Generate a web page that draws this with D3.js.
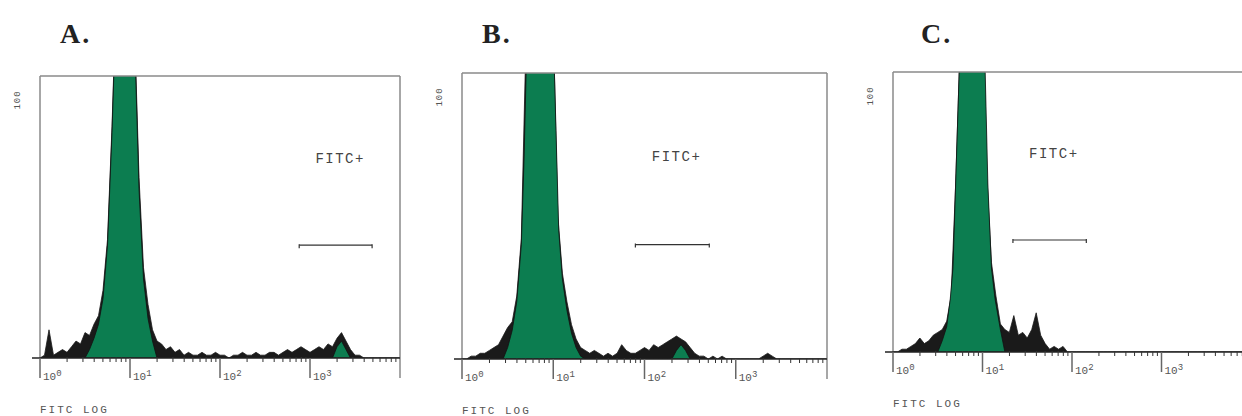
<!DOCTYPE html>
<html>
<head>
<meta charset="utf-8">
<script src="https://cdn.jsdelivr.net/npm/d3@7"></script>
<style>
  body { margin: 0; background: #fff; }
  svg { display: block; overflow: hidden; }
</style>
</head>
<body>
<svg id="chart" width="1242" height="416"></svg>
<script>
// channel width in decades (log10 units), channels start at 10^0
const step = 0.05;
const decades = [1, 10, 100, 1000];
const yMax = 100;
const gateLevel = 40;   // counts
const labelLevel = 71;  // counts

// raw histogram counts, one value per channel (0 .. 4 decades)
const rawA = [0,1,10,1,2,3,2,4,6,5,
              9,8,12,15,24,42,82,132,172,182,
              162,118,64,32,19,10,6,5,3,4,
              2,3,1,2,1,1,2,1,1,2,
              1,1,0,1,1,2,1,1,2,1,
              1,2,2,1,2,3,2,3,4,3,
              2,3,4,3,5,4,7,9,6,3,
              1,1,0,0,0,0,0,0,0,0,0];
const rawB = [0,0,1,1,2,2,3,4,5,8,
              11,13,22,42,110,152,172,180,174,152,
              117,50,30,20,12,7,4,3,2,3,
              2,1,2,1,2,5,3,2,2,3,
              4,3,5,4,5,6,7,8,7,6,
              4,2,1,1,0,1,0,1,0,0,
              0,0,0,0,0,0,1,2,1,0,
              0,0,0,0,0,0,0,0,0,0,0];
const rawC = [0,0,1,1,2,3,5,3,4,6,
              7,8,11,20,60,110,152,172,177,167,
              132,62,32,20,10,8,7,13,6,7,
              5,8,14,6,3,1,2,1,2,0,
              0,0,0,0,0,0,0,0,0,0,
              0,0,0,0,0,0,0,0,0,0,
              0,0,0,0,0,0,0,0,0,0,
              0,0,0,0,0,0,0,0,0,0,0];

// gated (green) populations: [decade, count]
const peakA = [[0.5,0],[0.55,3],[0.6,7],[0.65,12],[0.7,21],[0.75,40],[0.8,80],[0.85,130],[0.9,170],
               [0.95,180],[1.0,160],[1.05,115],[1.1,60],[1.15,28],[1.2,14],[1.25,6],[1.3,0],
               [3.25,0],[3.3,4],[3.35,6],[3.4,3],[3.45,0]];
const peakB = [[0.45,0],[0.5,4],[0.55,10],[0.6,20],[0.65,40],[0.68,70],[0.71,110],[0.75,150],[0.8,170],
               [0.85,178],[0.9,172],[0.95,150],[1.0,115],[1.03,80],[1.06,45],[1.1,28],[1.15,17],
               [1.2,9],[1.25,4],[1.3,1],[1.35,0],
               [2.3,0],[2.35,3],[2.4,5],[2.45,3],[2.5,0]];
const peakC = [[0.5,0],[0.55,4],[0.6,9],[0.64,19],[0.67,30],[0.7,60],[0.74,100],[0.8,150],[0.85,170],
               [0.9,175],[0.95,165],[1.0,130],[1.03,100],[1.06,60],[1.1,30],[1.14,19],[1.2,8],[1.25,0]];

// FITC+ marker ranges, in decades
const gateA = [2.88, 3.69];
const gateB = [1.90, 2.71];
const gateC = [1.34, 2.16];

const titles = ["A.", "B.", "C."];

const green = "#0c7d50";
const mono = "Liberation Mono, DejaVu Sans Mono, monospace";
const svg = d3.select("#chart");

const panels = [
    { title: titles[0], raw: rawA, peak: peakA, gate: gateA, x0: 40, x1: 400, top: 76, base: 358, tx: 60 },
    { title: titles[1], raw: rawB, peak: peakB, gate: gateB, x0: 462, x1: 827, top: 73, base: 359, tx: 482 },
    { title: titles[2], raw: rawC, peak: peakC, gate: gateC, x0: 893, x1: 1251, top: 72, base: 352, tx: 921 }
];

panels.forEach((p, k) => drawPanel(p, k));

function drawPanel(p, k) {
    let x = d3.scaleLog().domain([1, 1e4]).range([p.x0, p.x1]);
    let y = d3.scaleLinear().domain([0, yMax]).range([p.base, p.top]);
    let g = svg.append("g");

    // clip so the peaks get cut off at the top of the frame
    let id = "clip" + k;
    svg.append("clipPath").attr("id", id)
        .append("rect")
        .attr("x", p.x0).attr("y", p.top)
        .attr("width", p.x1 - p.x0).attr("height", p.base - p.top);

    let area = d3.area()
        .x(d => x(Math.pow(10, d[0])))
        .y0(p.base)
        .y1(d => y(d[1]));

    let rawPts = p.raw.map((v, i) => [i * step, v]);
    let plot = g.append("g").attr("clip-path", `url(#${id})`);

    // raw events (black)
    plot.append("path").datum(rawPts)
        .attr("d", area)
        .attr("fill", "#1a1a1a")
        .attr("stroke", "#1a1a1a")
        .attr("stroke-width", 0.8);

    // gated population (green)
    plot.append("path").datum(p.peak)
        .attr("d", area)
        .attr("fill", green)
        .attr("stroke", "#111")
        .attr("stroke-width", 0.8);

    // frame
    let frame = "#8a8a8a";
    g.append("line").attr("x1", p.x0).attr("x2", p.x1).attr("y1", p.top).attr("y2", p.top)
        .attr("stroke", frame).attr("stroke-width", 1.5);
    g.append("line").attr("x1", p.x0).attr("x2", p.x0).attr("y1", p.top).attr("y2", p.base)
        .attr("stroke", frame).attr("stroke-width", 1.5);
    g.append("line").attr("x1", p.x1).attr("x2", p.x1).attr("y1", p.top).attr("y2", p.base + 20)
        .attr("stroke", frame).attr("stroke-width", 1.5);

    // x axis
    g.append("line").attr("x1", p.x0 - 8).attr("x2", p.x1).attr("y1", p.base).attr("y2", p.base)
        .attr("stroke", "#222").attr("stroke-width", 1.5);

    let minor = x.ticks().filter(t => decades.indexOf(t) < 0 && t < 1e4);
    g.selectAll(".minor").data(minor).enter().append("line")
        .attr("x1", d => x(d)).attr("x2", d => x(d))
        .attr("y1", p.base - 1).attr("y2", p.base + 4)
        .attr("stroke", "#333").attr("stroke-width", 1);

    g.selectAll(".major").data(decades).enter().append("line")
        .attr("x1", d => x(d)).attr("x2", d => x(d))
        .attr("y1", p.base).attr("y2", p.base + 20)
        .attr("stroke", "#666").attr("stroke-width", 1.5);

    let lab = g.selectAll(".lab").data(decades).enter().append("text")
        .attr("x", d => x(d) + 3)
        .attr("y", p.base + 22)
        .attr("font-family", mono)
        .attr("font-size", 11)
        .attr("fill", "#555");
    lab.append("tspan").text("10");
    lab.append("tspan").attr("dy", -4).attr("font-size", 9).text(d => Math.round(Math.log10(d)));

    // axis titles
    g.append("text")
        .attr("x", p.x0).attr("y", p.base + 55)
        .attr("font-family", mono)
        .attr("font-size", 11).attr("letter-spacing", 2)
        .attr("fill", "#555")
        .text("FITC LOG");

    g.append("text")
        .attr("transform", `translate(${p.x0 - 20},${p.top + 24}) rotate(-90)`)
        .attr("text-anchor", "middle")
        .attr("font-family", mono)
        .attr("font-size", 9).attr("letter-spacing", 1)
        .attr("fill", "#555")
        .text("100");

    // panel letter
    g.append("text")
        .attr("x", p.tx).attr("y", 43)
        .attr("font-family", "Liberation Serif, serif")
        .attr("font-weight", "bold")
        .attr("font-size", 28).attr("letter-spacing", 2)
        .attr("fill", "#222")
        .text(p.title);

    // FITC+ marker
    let gy = y(gateLevel);
    let gx0 = x(Math.pow(10, p.gate[0]));
    let gx1 = x(Math.pow(10, p.gate[1]));
    g.append("line").attr("x1", gx0).attr("x2", gx1).attr("y1", gy).attr("y2", gy)
        .attr("stroke", "#333").attr("stroke-width", 1.2);
    [gx0, gx1].forEach(gx => {
        g.append("line").attr("x1", gx).attr("x2", gx).attr("y1", gy - 1).attr("y2", gy + 3)
            .attr("stroke", "#333").attr("stroke-width", 1.2);
    });
    g.append("text")
        .attr("x", x(Math.pow(10, p.gate[0] + 0.18)))
        .attr("y", y(labelLevel) + 5)
        .attr("font-family", mono)
        .attr("font-size", 14).attr("letter-spacing", 1.5)
        .attr("fill", "#444")
        .text("FITC+");
}
</script>
</body>
</html>
